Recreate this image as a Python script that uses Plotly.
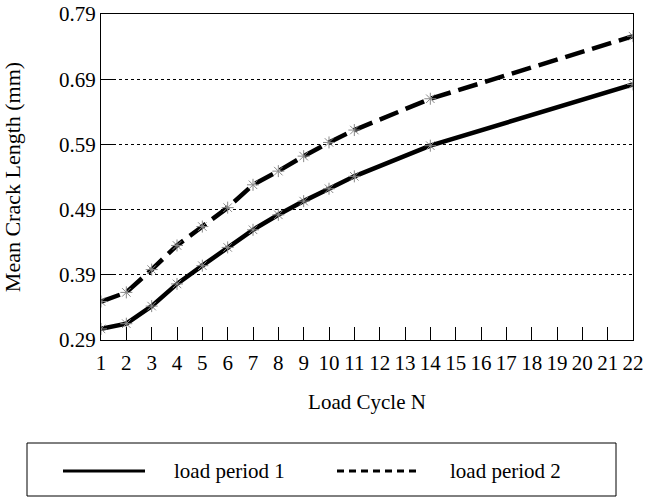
import plotly.graph_objects as go

cycles = [1, 2, 3, 4, 5, 6, 7, 8, 9, 10, 11, 14, 22]
period1 = [0.307, 0.315, 0.342, 0.376, 0.404, 0.432, 0.459, 0.482, 0.503, 0.522, 0.541, 0.588, 0.682]
period2 = [0.349, 0.363, 0.398, 0.435, 0.464, 0.493, 0.528, 0.549, 0.572, 0.593, 0.612, 0.660, 0.756]
series_names = ["load period 1", "load period 2"]
x_ticks = list(range(1, 23))
y_ticks = [0.29, 0.39, 0.49, 0.59, 0.69, 0.79]

FONT = "Liberation Serif"
W, H = 648, 498
L, R, T, B = 101, 15, 14, 158
pw, ph = W - L - R, H - T - B

def px(x):
    return (x - L) / pw

def py(y):
    return (T + ph - y) / ph

fig = go.Figure()
fig.add_trace(go.Scatter(
    x=cycles, y=period1, mode="lines+markers", name=series_names[0],
    line=dict(color="black", width=4.5),
    marker=dict(symbol="asterisk-open", size=10, color="#888", line=dict(width=1, color="#999")),
    showlegend=False))
fig.add_trace(go.Scatter(
    x=cycles, y=period2, mode="lines+markers", name=series_names[1],
    line=dict(color="black", width=4.5, dash="20px,8px"),
    marker=dict(symbol="asterisk-open", size=10, color="#888", line=dict(width=1, color="#999")),
    showlegend=False))

LEG_Y = 471
shapes = [
    dict(type="rect", xref="paper", yref="paper", x0=px(27), x1=px(616), y0=py(443), y1=py(496),
         line=dict(color="black", width=1)),
    dict(type="line", xref="paper", yref="paper", x0=px(63), x1=px(145), y0=py(LEG_Y), y1=py(LEG_Y),
         line=dict(color="black", width=3)),
    dict(type="line", xref="paper", yref="paper", x0=px(337), x1=px(421), y0=py(LEG_Y), y1=py(LEG_Y),
         line=dict(color="black", width=3, dash="7px,5px")),
]
annotations = [
    dict(text=series_names[0], xref="paper", yref="paper", x=px(172), y=py(LEG_Y), xanchor="left",
         yanchor="middle", showarrow=False, font=dict(family=FONT, size=21, color="black")),
    dict(text=series_names[1], xref="paper", yref="paper", x=px(448), y=py(LEG_Y), xanchor="left",
         yanchor="middle", showarrow=False, font=dict(family=FONT, size=21, color="black")),
]

fig.update_layout(
    width=W, height=H,
    margin=dict(l=L, r=R, t=T, b=B, pad=0, autoexpand=False),
    paper_bgcolor="white", plot_bgcolor="white",
    font=dict(family=FONT, color="black", size=21),
    shapes=shapes, annotations=annotations,
    showlegend=False,
)
fig.update_xaxes(
    range=[1, 22], tickvals=x_ticks, ticktext=[str(v) for v in x_ticks],
    ticks="inside", ticklen=13, tickcolor="black", tickwidth=1,
    showline=True, linecolor="black", linewidth=1, mirror=True,
    showgrid=False, zeroline=False, ticklabelstandoff=4, automargin=False,
    tickfont=dict(family=FONT, size=21),
    title=dict(text="Load Cycle N", font=dict(family=FONT, size=21), standoff=20),
)
fig.update_yaxes(
    range=[0.29, 0.79], tickvals=y_ticks, ticktext=[f"{v:.2f}" for v in y_ticks],
    ticks="inside", ticklen=13, tickcolor="black", tickwidth=1,
    showline=True, linecolor="black", linewidth=1, mirror=True,
    showgrid=True, gridcolor="black", griddash="dot", gridwidth=1, zeroline=False,
    automargin=False,
    tickfont=dict(family=FONT, size=21),
    title=dict(text="Mean Crack Length (mm)", font=dict(family=FONT, size=22), standoff=36),
)

fig.write_html("out.html", config={"displayModeBar": False},
               post_script="document.body.style.margin='0';document.body.style.overflow='hidden';")
